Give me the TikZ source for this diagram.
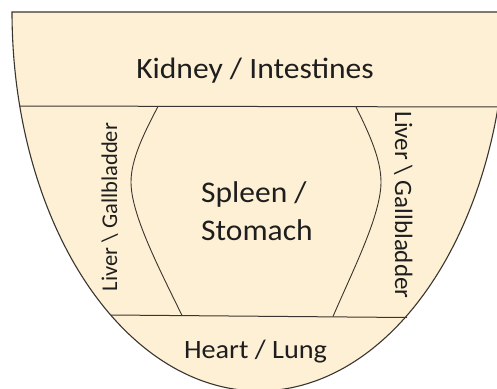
\documentclass[tikz,border=0pt]{standalone}
\usepackage{fontspec}
\setmainfont{Carlito}
\definecolor{tongue}{HTML}{FDF0D4}
\definecolor{ink}{HTML}{3A3530}
\definecolor{txt}{HTML}{1E1E1E}
\tikzset{
  outline/.style={draw=ink, line width=1.1pt},
  divider/.style={draw=ink, line width=1pt},
  zone/.style={draw=ink, line width=0.9pt},
  lbl/.style={text=txt, inner sep=0pt, font=#1},
}
\begin{document}
\begin{tikzpicture}[x=1pt,y=-1pt]
\useasboundingbox (0,0) rectangle (497,388);
\clip (0,0) rectangle (497,388);
% tongue outline
\path[outline, fill=tongue] plot[domain=0:180, samples=150, smooth]
  ({259-247*cos(\x)}, {12+379*sin(\x)}) -- cycle;
% divider end points
\coordinate (d1l) at (19.5,106);
\coordinate (d1r) at (498,107);
\coordinate (d2l) at (111,315);
\coordinate (d2r) at (407,317.5);
\draw[divider] (d1l) -- (d1r);
\draw[divider] (d2l) -- (d2r);
% inner zone curves
\coordinate (lt) at (158,106.5);
\coordinate (lb) at (182,315.5);
\coordinate (rt) at (356,107);
\coordinate (rb) at (333,316.5);
\draw[zone] (lt) .. controls (143,135) and (131,160) .. (131,182)
  .. controls (131,215) and (160,270) .. (lb);
\draw[zone] (rt) .. controls (370,135) and (381,160) .. (381,182)
  .. controls (381,215) and (353,270) .. (rb);
% labels
\node[lbl={\fontsize{29.5}{35}\selectfont}, anchor=base] (kidney) at (255,78) {\scalebox{1.07}[1]{Kidney / Intestines}};
\node[lbl={\fontsize{30}{36}\selectfont}, anchor=base west] (spleen) at (201,202) {\scalebox{1.05}[1]{Spleen /}};
\node[lbl={\fontsize{30}{36}\selectfont}, anchor=base west] (stomach) at (201,240) {\scalebox{1.05}[1]{Stomach}};
\node[lbl={\fontsize{26.5}{32}\selectfont}, anchor=base] (heart) at (255.5,358) {\scalebox{1.065}[1]{Heart / Lung}};
\node[lbl={\fontsize{22.5}{27}\selectfont}, anchor=base, rotate=90] (liverl) at (117,207) {Liver \textbackslash{} Gallbladder};
\node[lbl={\fontsize{25}{30}\selectfont}, anchor=base, rotate=-90] (liverr) at (395,205) {Liver \textbackslash{} Gallbladder};
\end{tikzpicture}
\end{document}
